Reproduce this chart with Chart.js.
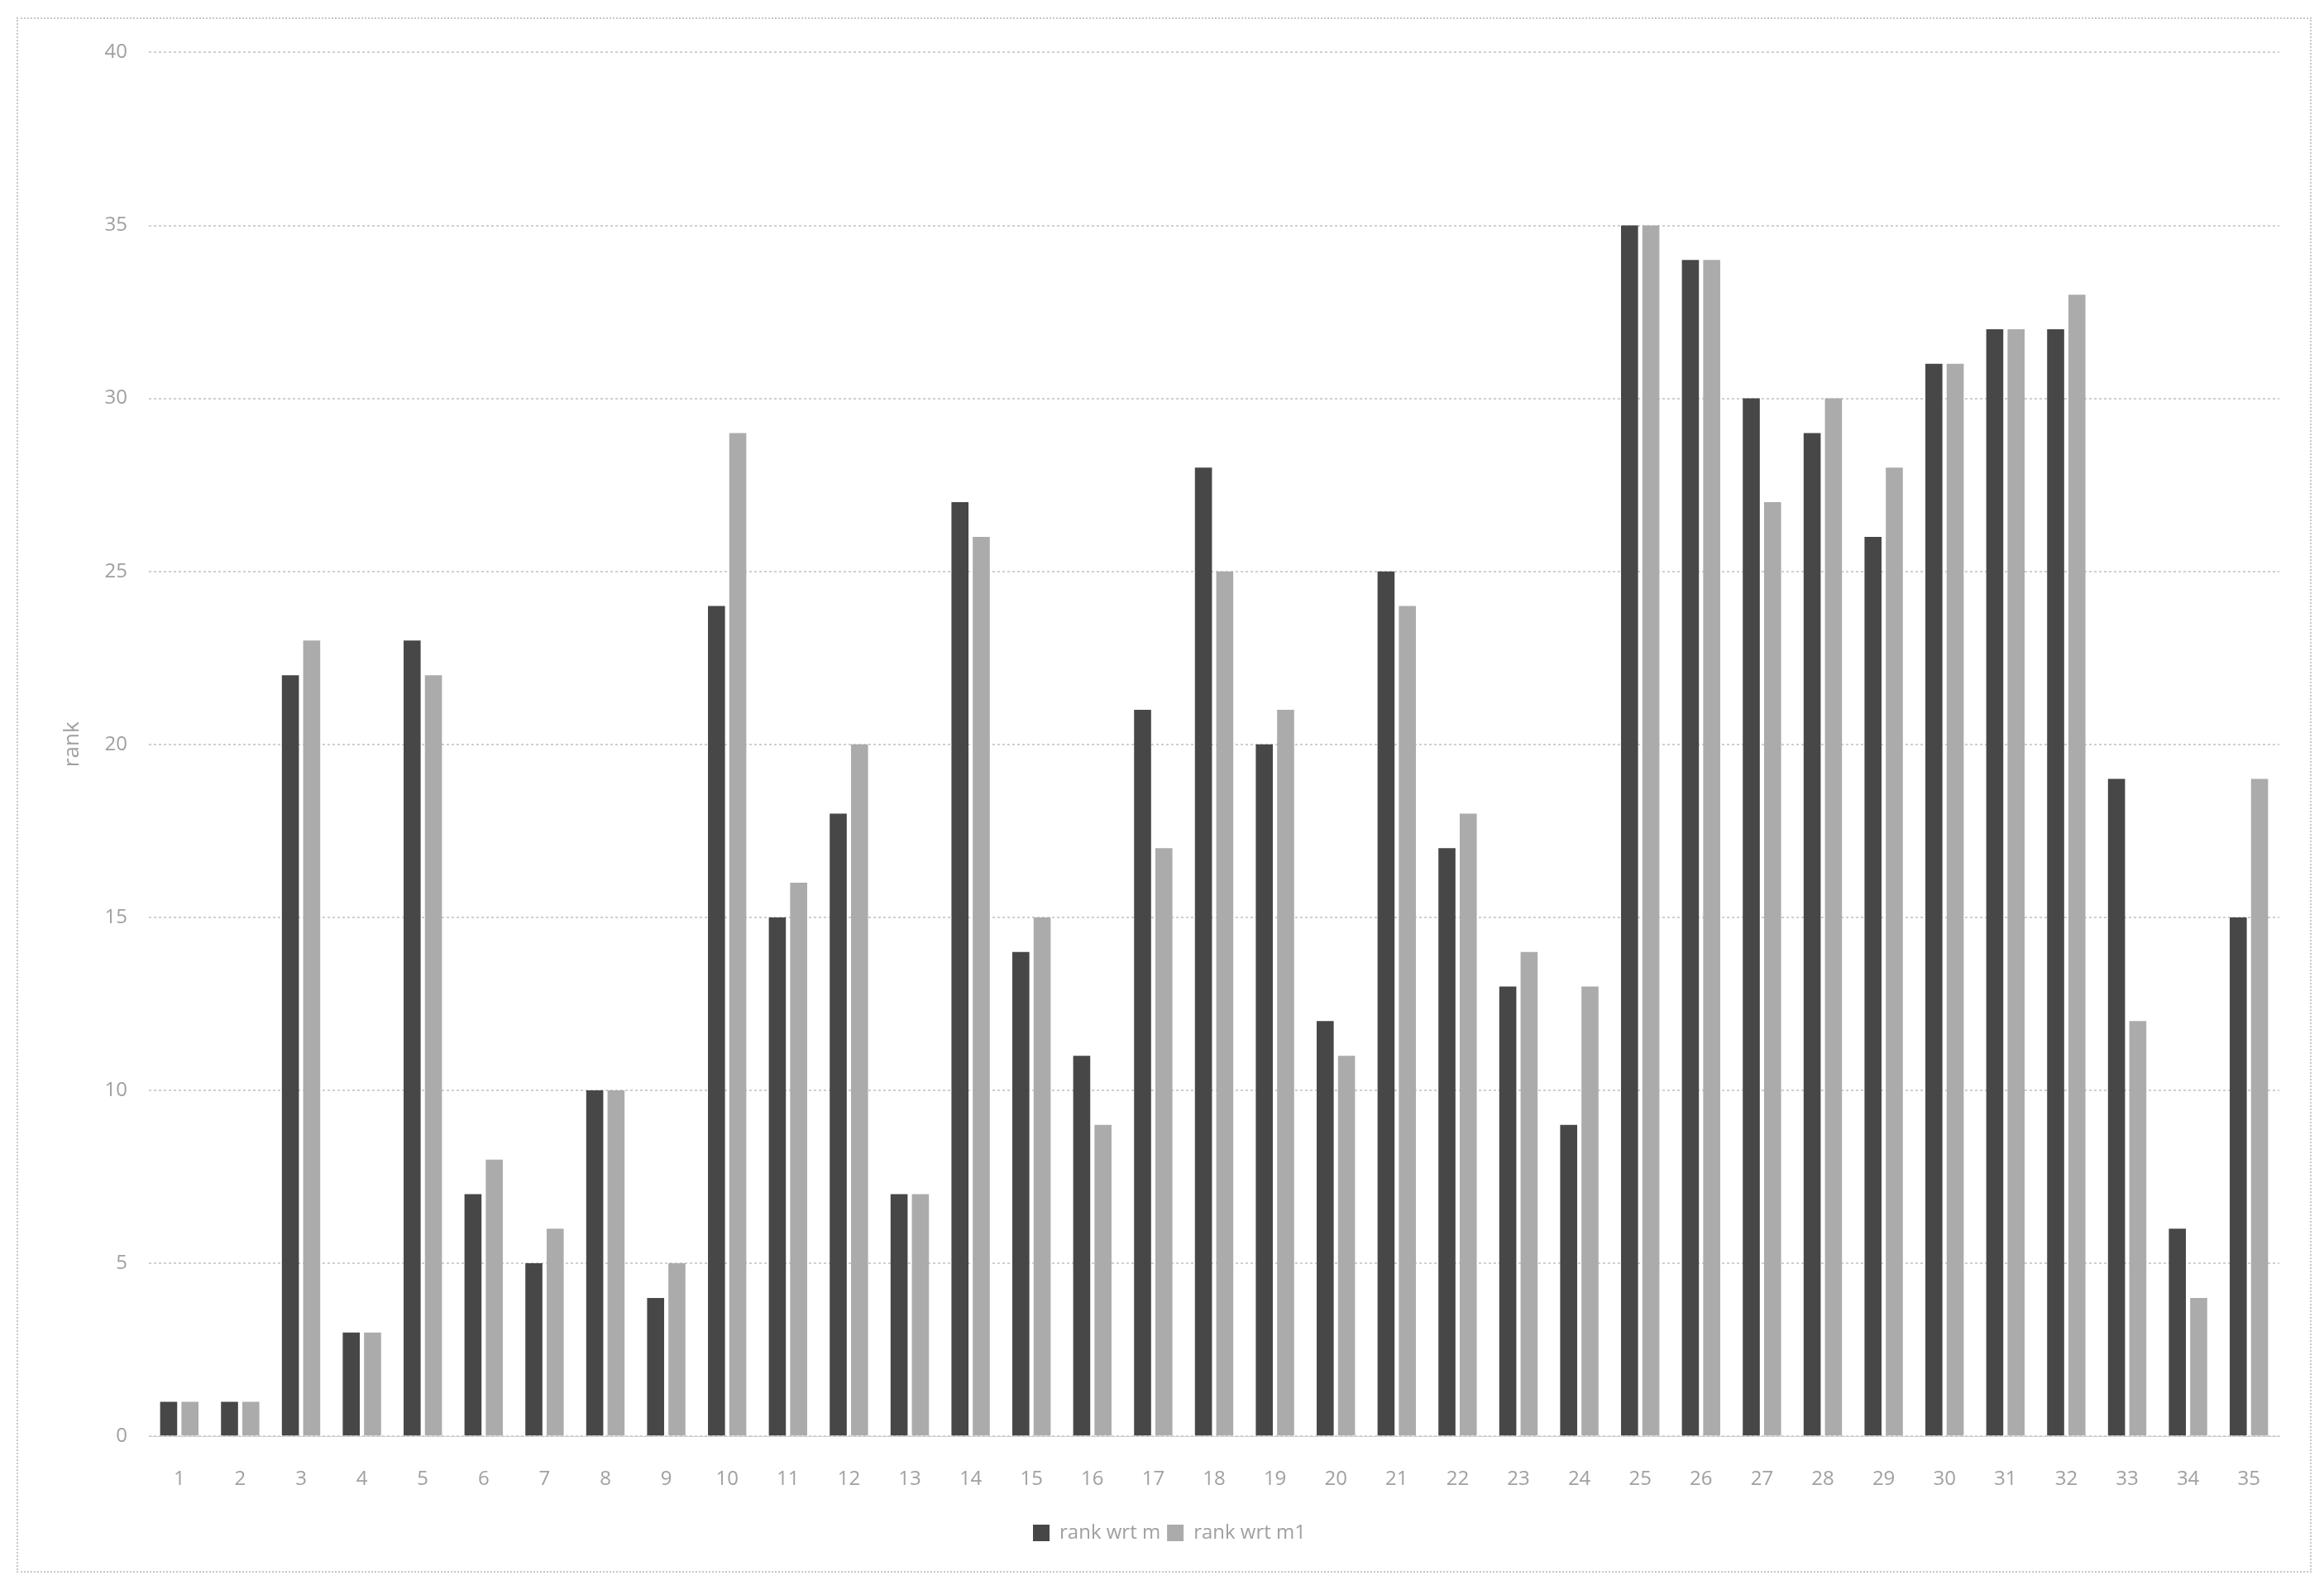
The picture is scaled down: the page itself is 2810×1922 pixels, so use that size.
<!DOCTYPE html>
<html>
<head>
<meta charset="utf-8">
<script src="https://cdn.jsdelivr.net/npm/chart.js@4.4.0/dist/chart.umd.min.js"></script>
<style>
  html, body { margin: 0; padding: 0; background: #fff; }
  #wrap {
    position: absolute; left: 20px; top: 21px;
    width: 2771px; height: 1876px;
    border: 2px dotted #c8c8c8;
  }
</style>
</head>
<body>
<div id="wrap"><canvas id="rankChart"></canvas></div>
<script>
// categories 1..35
const categories = ["1","2","3","4","5","6","7","8","9","10","11","12","13","14","15","16","17","18","19","20","21","22","23","24","25","26","27","28","29","30","31","32","33","34","35"];
const rankM  = [1, 1, 22, 3, 23, 7, 5, 10, 4, 24, 15, 18, 7, 27, 14, 11, 21, 28, 20, 12, 25, 17, 13, 9, 35, 34, 30, 29, 26, 31, 32, 32, 19, 6, 15];
const rankM1 = [1, 1, 23, 3, 22, 8, 6, 10, 5, 29, 16, 20, 7, 26, 15, 9, 17, 25, 21, 11, 24, 18, 14, 13, 35, 34, 27, 30, 28, 31, 32, 33, 12, 4, 19];
const yTicks = [0, 5, 10, 15, 20, 25, 30, 35, 40];

const txt = "#a0a0a0";
const grid = "#cfcfcf";

new Chart(document.getElementById("rankChart"), {
  type: "bar",
  data: {
    labels: categories,
    datasets: [
      { label: "rank wrt m",  data: rankM,  backgroundColor: "#474747" },
      { label: "rank wrt m1", data: rankM1, backgroundColor: "#ababab" },
    ],
  },
  options: {
    responsive: true,
    maintainAspectRatio: false,
    animation: false,
    datasets: { bar: { categoryPercentage: 0.7, barPercentage: 0.8 } },
    layout: { padding: { top: 28, right: 37, bottom: 24, left: 50 } },
    plugins: {
      legend: {
        position: "bottom",
        labels: {
          color: txt, font: { family: "Open Sans", size: 24 },
          boxWidth: 20, boxHeight: 20, padding: 8,
        },
      },
      tooltip: { enabled: false },
    },
    scales: {
      x: {
        grid: { display: false },
        border: { color: grid, dash: [3, 3] },
        ticks: { color: txt, font: { family: "Open Sans", size: 24 }, padding: 30, maxRotation: 0 },
      },
      y: {
        min: 0, max: 40,
        afterBuildTicks: (axis) => { axis.ticks = yTicks.map((v) => ({ value: v })); },
        afterFit: (axis) => { axis.width = 108; },
        grid: { color: grid, tickLength: 0, lineWidth: 2 },
        border: { display: false, dash: [3, 3] },
        ticks: { color: txt, font: { family: "Open Sans", size: 24 }, padding: 26 },
        title: { display: true, text: "rank", color: txt, font: { family: "Open Sans", size: 26 }, padding: 0 },
      },
    },
  },
});
</script>
</body>
</html>
